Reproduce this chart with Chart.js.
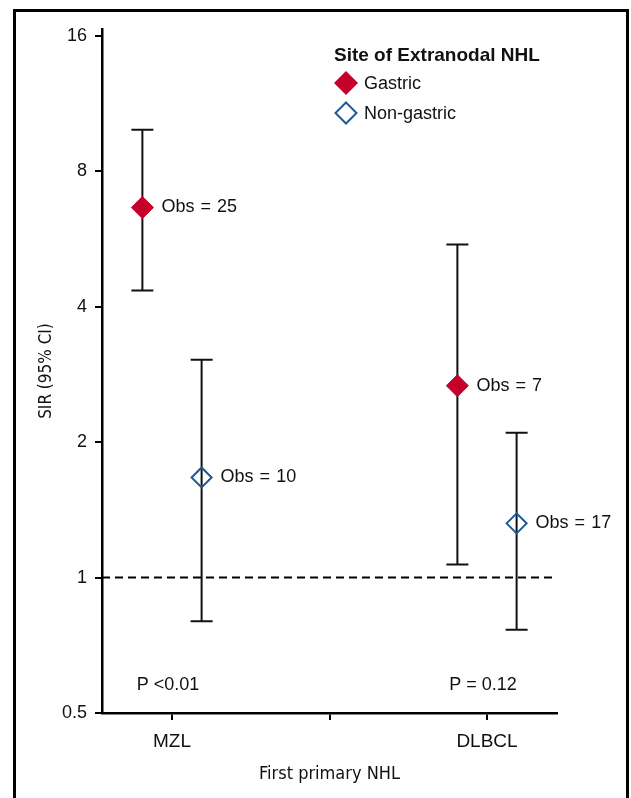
<!DOCTYPE html>
<html lang="en">
<head>
<meta charset="UTF-8">
<title>SIR by first primary NHL</title>
<script src="https://cdn.jsdelivr.net/npm/chart.js"></script>
<style>
  body { margin: 0; background: #fff; }
  #wrap { position: relative; width: 631px; height: 798px; overflow: hidden; }
  #frame { position: absolute; left: 13px; top: 9px; width: 610px; height: 820px;
           border: 3px solid #000; border-bottom: none; pointer-events: none; }
</style>
</head>
<body>
<div id="wrap">
  <canvas id="sirChart" width="631" height="798"></canvas>
  <div id="frame"></div>
</div>
<script>
// data
const categories = ['MZL', 'DLBCL'];
const gastricSIR = [6.65, 2.67];
const gastricLow = [4.35, 1.07];
const gastricHigh = [9.9, 5.5];
const nonGastricSIR = [1.67, 1.32];
const nonGastricLow = [0.80, 0.766];
const nonGastricHigh = [3.05, 2.10];
const obsGastric = [25, 7];
const obsNonGastric = [10, 17];
const pLabels = ['P <0.01', 'P = 0.12'];
const yTicks = [0.5, 1, 2, 4, 8, 16];

const SANS = "'Liberation Sans', Arial, Helvetica, sans-serif";
const NARROW = "'Liberation Sans Narrow', 'DejaVu Sans Condensed', 'Arial Narrow', sans-serif";
const RED = '#c4002b';
const BLUE = '#1d5a94';
const offset = 0.094;
const SP = '\u2004';

const groups = [
    { label: 'Gastric', sir: gastricSIR, lo: gastricLow, hi: gastricHigh, obs: obsGastric, dx: -offset },
    { label: 'Non-gastric', sir: nonGastricSIR, lo: nonGastricLow, hi: nonGastricHigh, obs: obsNonGastric, dx: offset }
];

// error bars, reference line, labels and legend
const extras = {
    id: 'extras',
    beforeDatasetsDraw(chart) {
        const { ctx, scales: { x, y }, chartArea } = chart;
        ctx.save();
        // dashed line at SIR = 1
        ctx.strokeStyle = '#000';
        ctx.lineWidth = 2;
        ctx.setLineDash([8, 5]);
        ctx.beginPath();
        ctx.moveTo(chartArea.left, y.getPixelForValue(1));
        ctx.lineTo(chartArea.right, y.getPixelForValue(1));
        ctx.stroke();
        ctx.setLineDash([]);
        // confidence intervals
        ctx.strokeStyle = '#111';
        ctx.lineWidth = 2;
        groups.forEach(g => {
            categories.forEach((c, i) => {
                const px = x.getPixelForValue(i + 1 + g.dx);
                const top = y.getPixelForValue(g.hi[i]);
                const bot = y.getPixelForValue(g.lo[i]);
                ctx.beginPath();
                ctx.moveTo(px, top); ctx.lineTo(px, bot);
                ctx.moveTo(px - 11, top); ctx.lineTo(px + 11, top);
                ctx.moveTo(px - 11, bot); ctx.lineTo(px + 11, bot);
                ctx.stroke();
            });
        });
        ctx.restore();
    },
    afterDatasetsDraw(chart) {
        const { ctx, scales: { x, y } } = chart;
        ctx.save();
        ctx.fillStyle = '#111';
        ctx.font = '18px ' + SANS;
        ctx.textBaseline = 'middle';
        ctx.textAlign = 'left';
        groups.forEach(g => {
            categories.forEach((c, i) => {
                const px = x.getPixelForValue(i + 1 + g.dx);
                ctx.fillText('Obs' + SP + '=' + SP + g.obs[i], px + 19, y.getPixelForValue(g.sir[i]));
            });
        });
        ctx.textAlign = 'center';
        pLabels.forEach((p, i) => {
            ctx.fillText(p, x.getPixelForValue(i + 1) - 4, y.getPixelForValue(0.578));
        });

        // legend
        ctx.textAlign = 'left';
        ctx.font = 'bold 19px ' + SANS;
        ctx.fillText('Site of Extranodal NHL', 334, 56);
        ctx.font = '18px ' + SANS;
        const diamond = (cx, cy, r) => {
            ctx.beginPath();
            ctx.moveTo(cx, cy - r); ctx.lineTo(cx + r, cy);
            ctx.lineTo(cx, cy + r); ctx.lineTo(cx - r, cy);
            ctx.closePath();
        };
        diamond(346, 83, 12);
        ctx.fillStyle = RED; ctx.fill();
        diamond(346, 113, 10.5);
        ctx.strokeStyle = BLUE; ctx.lineWidth = 2; ctx.stroke();
        ctx.fillStyle = '#111';
        ctx.fillText('Gastric', 364, 84);
        ctx.fillText('Non-gastric', 364, 114);
        ctx.restore();
    }
};

const ctx = document.getElementById('sirChart').getContext('2d');
new Chart(ctx, {
    type: 'scatter',
    data: {
        datasets: [
            {
                label: 'Gastric',
                data: gastricSIR.map((v, i) => ({ x: i + 1 - offset, y: v })),
                pointStyle: 'rectRot',
                pointRadius: 11,
                backgroundColor: RED,
                borderColor: RED,
                borderWidth: 1
            },
            {
                label: 'Non-gastric',
                data: nonGastricSIR.map((v, i) => ({ x: i + 1 + offset, y: v })),
                pointStyle: 'rectRot',
                pointRadius: 10,
                backgroundColor: 'rgba(0,0,0,0)',
                borderColor: BLUE,
                borderWidth: 2
            }
        ]
    },
    options: {
        responsive: false,
        animation: false,
        layout: { padding: { top: 29, right: 74, left: 0, bottom: 0 } },
        plugins: {
            legend: { display: false },
            tooltip: { enabled: false }
        },
        scales: {
            x: {
                type: 'linear',
                min: 1 - 70 / 315,
                max: 2 + 70 / 315,
                afterFit: (scale) => { scale.height = 85; },
                afterBuildTicks: (scale) => { scale.ticks = [{ value: 1 }, { value: 1.5 }, { value: 2 }]; },
                border: { display: true, color: '#000', width: 2.5 },
                grid: { drawOnChartArea: false, drawTicks: true, tickLength: 7, color: '#000', lineWidth: 2 },
                ticks: {
                    padding: 10,
                    color: '#111',
                    font: { family: SANS, size: 19 },
                    callback: (v) => v === 1 ? categories[0] : (v === 2 ? categories[1] : '')
                },
                title: {
                    display: true,
                    text: 'First primary NHL',
                    color: '#111',
                    font: { family: NARROW, size: 18 },
                    padding: { top: 0, bottom: 13 }
                }
            },
            y: {
                type: 'logarithmic',
                min: 0.5,
                max: 16 * Math.pow(2, 7 / 135.5),
                afterFit: (scale) => { scale.width = 102; },
                afterBuildTicks: (scale) => { scale.ticks = yTicks.map(v => ({ value: v })); },
                border: { display: true, color: '#000', width: 2.5 },
                grid: { drawOnChartArea: false, drawTicks: true, tickLength: 7, color: '#000', lineWidth: 2 },
                ticks: {
                    padding: 8,
                    color: '#111',
                    font: { family: SANS, size: 18 },
                    callback: (v) => String(v)
                },
                title: {
                    display: true,
                    text: 'SIR (95% CI)',
                    color: '#111',
                    font: { family: NARROW, size: 17 },
                    padding: { top: 36, bottom: 0 }
                }
            }
        }
    },
    plugins: [extras]
});
</script>
</body>
</html>
